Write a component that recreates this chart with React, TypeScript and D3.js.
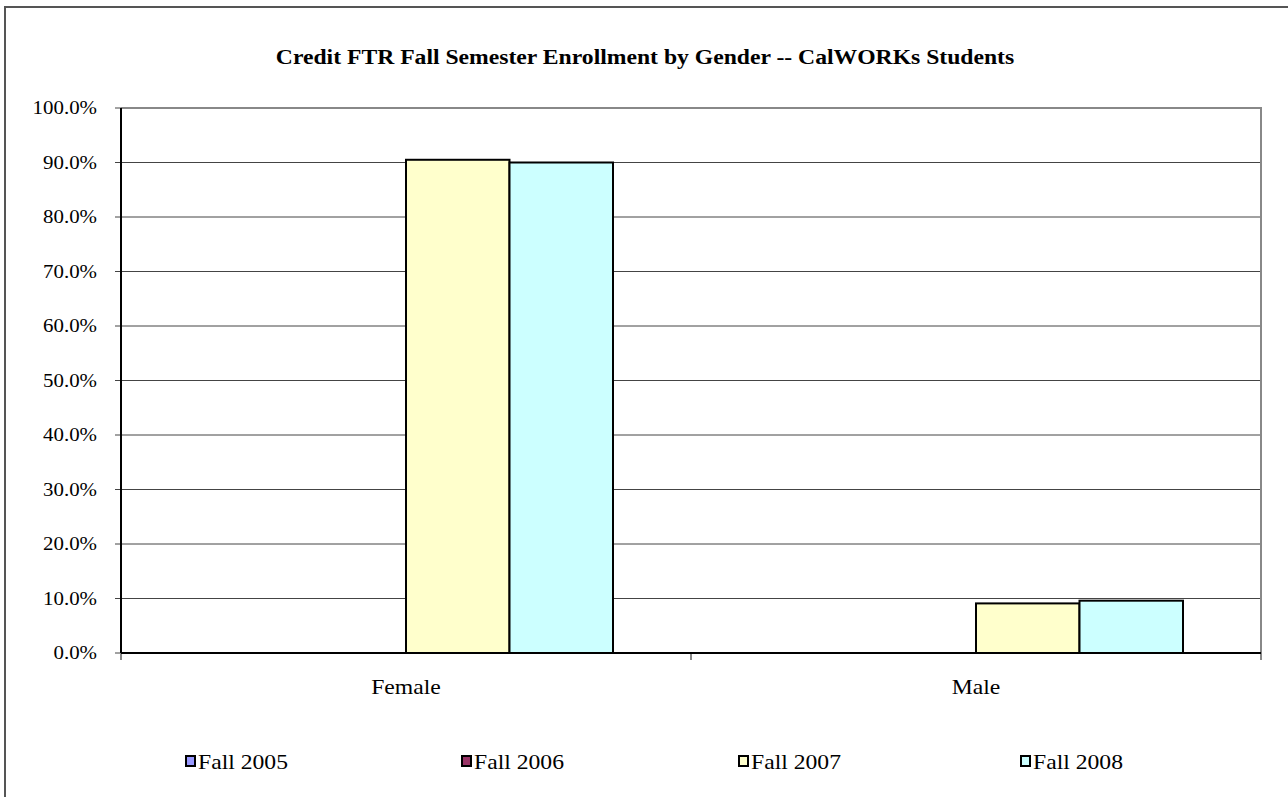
import React, { useEffect, useRef } from "react"
import * as d3 from "d3"

const categories = ["Female", "Male"]
const seriesNames = ["Fall 2005", "Fall 2006", "Fall 2007", "Fall 2008"]
const fall2005 = [0, 0]
const fall2006 = [0, 0]
const fall2007 = [90.5, 9.1]
const fall2008 = [90.0, 9.6]
const yTicks = [0, 10, 20, 30, 40, 50, 60, 70, 80, 90, 100]
const colors = ["#9999FF", "#993366", "#FFFFCC", "#CCFFFF"]

const W = 1288
const H = 797
const SX = 1.1 // text in the picture is a bit stretched sideways
const FONT = "'Liberation Serif', 'Times New Roman', serif"

export default function App() {
  const ref = useRef<SVGSVGElement>(null)

  useEffect(() => {
    const svg = d3.select(ref.current)
    svg.selectAll("*").remove()
    const series = [fall2005, fall2006, fall2007, fall2008]
    const padding = { top: 108, right: 27, bottom: 144, left: 121 }

    const x0 = d3.scaleBand().domain(categories).range([padding.left, W - padding.right])
    // bar group ~414 wide inside each 570 band
    const x1 = d3.scaleBand().domain(seriesNames).range([78, x0.bandwidth() - 78])
    const y = d3.scaleLinear().domain([0, 100]).range([H - padding.bottom, padding.top])

    // outer frame
    svg.append("rect")
      .attr("x", 5).attr("y", 7).attr("width", W + 10).attr("height", H + 10)
      .attr("fill", "#fff").attr("stroke", "#555").attr("stroke-width", 2)

    const text = (g: any, tx: number, ty: number, s: string, anchor: string, size: number, bold = false) => {
      g.append("g").attr("transform", `translate(${tx},${ty}) scale(${SX},1)`)
        .append("text").text(s)
        .attr("text-anchor", anchor)
        .attr("font-family", FONT)
        .attr("font-size", size)
        .attr("font-weight", bold ? "bold" : "normal")
        .attr("fill", "#000")
    }

    text(svg, 645, 64, "Credit FTR Fall Semester Enrollment by Gender -- CalWORKs Students", "middle", 21.5, true)

    // gridlines
    svg.append("g").selectAll("line")
      .data(yTicks.filter(d => d > 0 && d < 100))
      .join("line")
      .attr("x1", padding.left).attr("x2", W - padding.right)
      .attr("y1", d => y(d)).attr("y2", d => y(d))
      .attr("stroke", "#444").attr("stroke-width", 1)

    // plot border top/right
    svg.append("path")
      .attr("d", `M${padding.left},${y(100)}H${W - padding.right}V${y(0)}`)
      .attr("fill", "none").attr("stroke", "#888").attr("stroke-width", 2)

    // y ticks + labels
    const ya = svg.append("g")
    ya.selectAll("line").data(yTicks).join("line")
      .attr("x1", padding.left - 6).attr("x2", padding.left)
      .attr("y1", d => y(d)).attr("y2", d => y(d))
      .attr("stroke", "#444").attr("stroke-width", 1)
    yTicks.forEach(t => text(ya, 97, y(t) + 6, d3.format(".1f")(t) + "%", "end", 19))

    // bars
    categories.forEach((c, ci) => {
      series.forEach((s, si) => {
        const v = s[ci]
        if (!v) return
        svg.append("rect")
          .attr("x", (x0(c) as number) + (x1(seriesNames[si]) as number))
          .attr("y", y(v))
          .attr("width", x1.bandwidth())
          .attr("height", y(0) - y(v))
          .attr("fill", colors[si])
          .attr("stroke", "#000").attr("stroke-width", 2)
      })
    })

    // axes lines
    svg.append("line")
      .attr("x1", padding.left).attr("x2", padding.left)
      .attr("y1", y(100)).attr("y2", y(0))
      .attr("stroke", "#000").attr("stroke-width", 2)
    const xTicks = [...categories.map(c => x0(c) as number), W - padding.right]
    svg.append("g").selectAll("line").data(xTicks).join("line")
      .attr("x1", d => d).attr("x2", d => d)
      .attr("y1", y(0)).attr("y2", y(0) + 7)
      .attr("stroke", "#888").attr("stroke-width", 2)
    svg.append("line")
      .attr("x1", padding.left).attr("x2", W - padding.right)
      .attr("y1", y(0)).attr("y2", y(0))
      .attr("stroke", "#000").attr("stroke-width", 2)

    categories.forEach(c => {
      text(svg, (x0(c) as number) + x0.bandwidth() / 2, 694, c, "middle", 21.5)
    })

    // legend
    const legendX = [186, 462, 739, 1021]
    seriesNames.forEach((n, i) => {
      svg.append("rect")
        .attr("x", legendX[i]).attr("y", 756)
        .attr("width", 9).attr("height", 10)
        .attr("fill", colors[i]).attr("stroke", "#000").attr("stroke-width", 2)
      text(svg, legendX[i] + 12, 769, n, "start", 21.5)
    })
  }, [])

  return (
    <svg ref={ref} width={W} height={H} style={{ position: "absolute", left: 0, top: 0, background: "#fff" }} />
  )
}
